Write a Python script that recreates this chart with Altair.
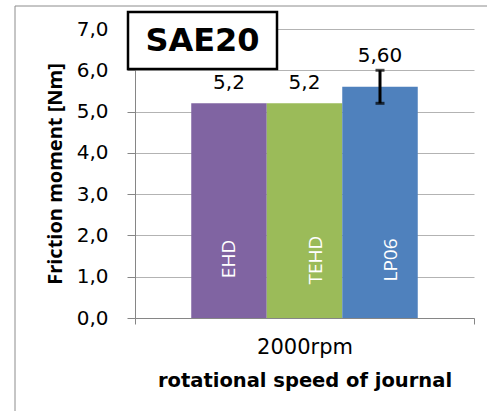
import altair as alt
import pandas as pd

models = ["EHD", "TEHD", "LP06"]
values = [5.2, 5.2, 5.6]
errors = [0.0, 0.0, 0.4]
value_labels = ["5,2", "5,2", "5,60"]
speed = ["2000rpm", "2000rpm", "2000rpm"]
colors = ["#8064A2", "#9BBB59", "#4F81BD"]
y_ticks = [0, 1, 2, 3, 4, 5, 6, 7]
panel_title = "SAE20"

df = pd.DataFrame({"model": models, "value": values, "err": errors,
                   "label": value_labels, "speed": speed})

HFONT = "DejaVu Sans"
VFONT = "Open Sans"
W, H = 339, 289

base = alt.Chart(df).transform_calculate(
    lo="datum.value - datum.err", hi="datum.value + datum.err"
)

x_enc = alt.X("speed:N", title="rotational speed of journal",
              scale=alt.Scale(paddingInner=0, paddingOuter=0),
              axis=alt.Axis(labelAngle=0, tickBand="extent", tickSize=6,
                            tickColor="#868686", domainColor="#868686",
                            labelFontSize=21, labelFont=HFONT, labelColor="black",
                            labelBaseline="middle", labelPadding=23,
                            titleFont=HFONT, titleFontSize=19.5, titleFontWeight="bold",
                            titleColor="black", titleBaseline="middle", titleY=62,
                            grid=False))
xo_enc = alt.XOffset("model:N", sort=models,
                     scale=alt.Scale(paddingInner=0, paddingOuter=0.745))
y_scale = alt.Scale(domain=[0, 7], nice=False)

bars = base.mark_bar().encode(
    x=x_enc, xOffset=xo_enc,
    y=alt.Y("value:Q", scale=y_scale, title="Friction moment [Nm]",
            axis=alt.Axis(values=y_ticks,
                          labelExpr="replace(format(datum.value, '.1f'), '.', ',')",
                          tickSize=8, tickColor="#868686", domainColor="#868686",
                          gridColor="#B3B3B3", labelFontSize=20, labelFont=HFONT,
                          labelColor="black", labelPadding=19,
                          titleFont=VFONT, titleFontSize=20, titleFontWeight="bold",
                          titleColor="black", titleX=-80, titleY=H / 2,
                          titleAngle=270, titleAlign="center",
                          titleBaseline="middle")),
    color=alt.Color("model:N", sort=models,
                    scale=alt.Scale(domain=models, range=colors), legend=None),
)

err_rule = base.transform_filter("datum.err > 0").mark_rule(
    color="black", strokeWidth=3).encode(
    x="speed:N", xOffset=xo_enc, y=alt.Y("lo:Q", scale=y_scale), y2="hi:Q")
err_lo = base.transform_filter("datum.err > 0").mark_tick(
    color="black", thickness=3, size=9).encode(
    x="speed:N", xOffset=xo_enc, y=alt.Y("lo:Q", scale=y_scale))
err_hi = base.transform_filter("datum.err > 0").mark_tick(
    color="black", thickness=3, size=9).encode(
    x="speed:N", xOffset=xo_enc, y=alt.Y("hi:Q", scale=y_scale))

lab_plain = base.transform_filter("datum.err == 0").mark_text(
    font=HFONT, fontSize=20, color="black", baseline="alphabetic", dy=-14).encode(
    x="speed:N", xOffset=xo_enc, y=alt.Y("hi:Q", scale=y_scale), text="label:N")
lab_err = base.transform_filter("datum.err > 0").mark_text(
    font=HFONT, fontSize=20, color="black", baseline="alphabetic", dy=-8).encode(
    x="speed:N", xOffset=xo_enc, y=alt.Y("hi:Q", scale=y_scale), text="label:N")

name_a = base.transform_filter("datum.model == 'EHD'").mark_text(
    font=VFONT, fontSize=19, color="white", angle=270, align="center",
    baseline="middle").encode(
    x="speed:N", xOffset=xo_enc, y=alt.value(230), text="model:N")
name_b = base.transform_filter("datum.model != 'EHD'").mark_text(
    font=VFONT, fontSize=19, color="white", angle=270, align="center",
    baseline="middle", dy=11).encode(
    x="speed:N", xOffset=xo_enc, y=alt.value(231), text="model:N")

one = alt.Data(values=[{"t": panel_title}])
frame = alt.Chart(one).mark_rect(fill="transparent", stroke="#8C8C8C",
                                 strokeWidth=1).encode(
    x=alt.value(-120), x2=alt.value(520), y=alt.value(-23), y2=alt.value(500))
box = alt.Chart(one).mark_rect(fill="white", stroke="black",
                               strokeWidth=2.5).encode(
    x=alt.value(-7), x2=alt.value(142), y=alt.value(-17), y2=alt.value(40))
box_text = alt.Chart(one).mark_text(font=HFONT, fontSize=32, fontWeight="bold",
                                    color="black", align="center",
                                    baseline="middle").encode(
    x=alt.value(67.5), y=alt.value(12), text="t:N")

chart = alt.layer(
    frame, bars, err_rule, err_lo, err_hi, lab_plain, lab_err, name_a, name_b,
    box, box_text
).properties(
    width=W, height=H,
    autosize=alt.AutoSizeParams(type="none"),
    padding={"left": 135, "top": 29, "right": 13, "bottom": 93},
    background="white",
).configure_view(stroke=None)

chart.save("out.html", embed_options={"renderer": "svg", "actions": False})
